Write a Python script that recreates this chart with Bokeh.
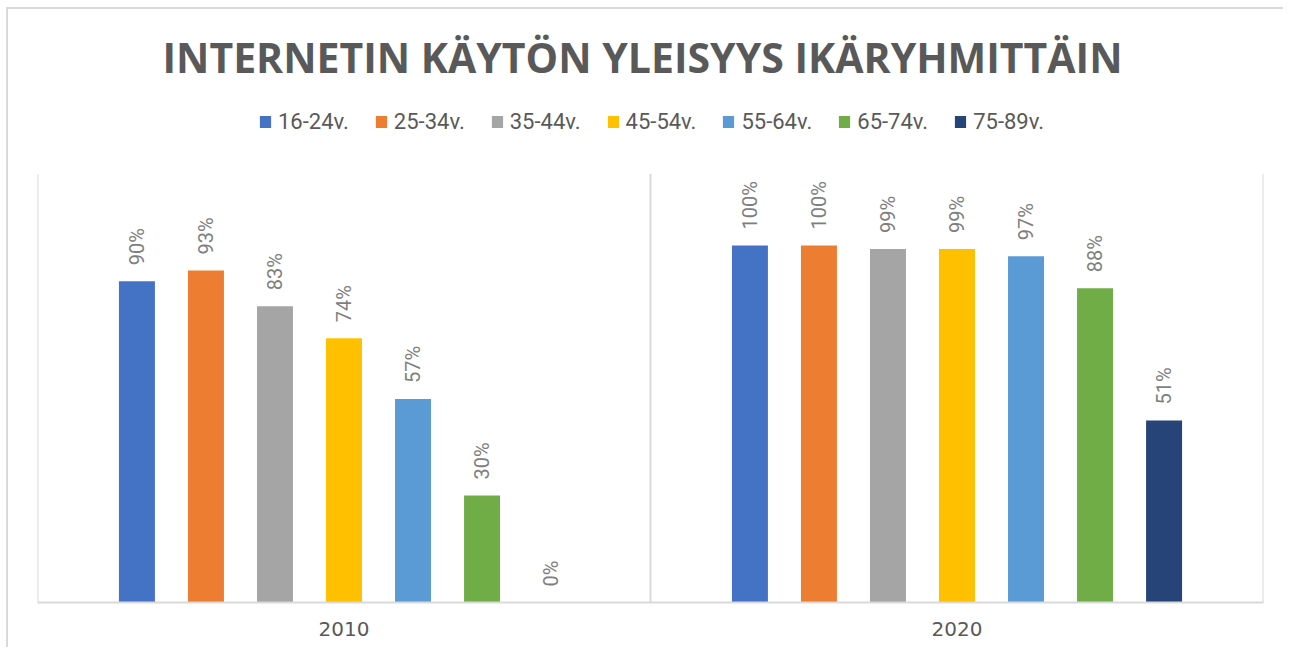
from math import pi
from bokeh.plotting import figure
from bokeh.models import ColumnDataSource, FactorRange, Range1d, Legend, LegendItem, Label
from bokeh.transform import dodge
from bokeh.core.properties import value
from bokeh.embed import file_html
from bokeh.resources import INLINE

title_text = "INTERNETIN KÄYTÖN YLEISYYS IKÄRYHMITTÄIN"
years = ["2010", "2020"]
age_groups = ["16-24v.", "25-34v.", "35-44v.", "45-54v.", "55-64v.", "65-74v.", "75-89v."]
values_2010 = [0.90, 0.93, 0.83, 0.74, 0.57, 0.30, 0.00]
values_2020 = [1.00, 1.00, 0.99, 0.99, 0.97, 0.88, 0.51]
colors = ["#4472C4", "#ED7D31", "#A5A5A5", "#FFC000", "#5B9BD5", "#70AD47", "#264478"]
axis_max = 1.2

step = 0.1126
bar_w = 0.0587
px_per_unit = 357.0
frame_h = 593

p = figure(x_range=FactorRange(factors=years), y_range=Range1d(0, frame_h / px_per_unit),
           frame_width=1226, frame_height=frame_h,
           min_border_left=29, min_border_right=20, min_border_top=0, min_border_bottom=45,
           output_backend="svg", toolbar_location=None, y_axis_location=None)
p.styles = {"margin-left": "6px", "margin-top": "7px",
            "border-top": "2px solid #d9d9d9", "border-left": "2px solid #d9d9d9"}
p.outline_line_color = None
p.xgrid.visible = False
p.ygrid.visible = False
p.background_fill_color = "white"
p.border_fill_color = "white"

# category separators (synthetic coordinates of the factor range)
p.segment(x0=[0, 1, 2], y0=[0, 0, 0], x1=[0, 1, 2], y1=[axis_max] * 3,
          line_color="#d9d9d9", line_width=2)

items = []
for i, (g, c) in enumerate(zip(age_groups, colors)):
    vals = [values_2010[i], values_2020[i]]
    src = ColumnDataSource(dict(year=years, val=vals, lbl=[f"{round(v * 100)}%" for v in vals]))
    off = (i - 3) * step
    r = p.vbar(x=dodge("year", off, range=p.x_range), top="val", width=bar_w, source=src,
               fill_color=c, line_color=None)
    p.text(x=dodge("year", off, range=p.x_range), y="val", text="lbl", source=src,
           angle=pi / 2, text_align="left", text_baseline="middle", y_offset=-16,
           text_font=value("Roboto"), text_font_size="20px", text_color="#7f7f7f")
    items.append(LegendItem(label=g, renderers=[r]))

legend = Legend(items=items, orientation="horizontal", location=(221, 468),
                glyph_width=14, glyph_height=15, label_standoff=6, spacing=25,
                padding=0, margin=0, label_height=15,
                label_text_font="Roboto", label_text_font_size="22px", label_text_color="#595959",
                border_line_color=None, background_fill_alpha=0)
p.add_layout(legend)

p.add_layout(Label(x=605, y=546, x_units="screen", y_units="screen", text=title_text,
                   text_align="center", text_baseline="alphabetic", text_font="Open Sans",
                   text_font_style="bold", text_font_size="41px", text_color="#595959"))

ax = p.xaxis[0]
ax.axis_line_color = "#d9d9d9"
ax.axis_line_width = 2
ax.major_tick_line_color = None
ax.major_label_text_font = "DejaVu Sans"
ax.major_label_text_font_size = "20px"
ax.major_label_text_color = "#595959"
ax.major_label_standoff = 13

open("out.html", "w").write(file_html(p, INLINE))
